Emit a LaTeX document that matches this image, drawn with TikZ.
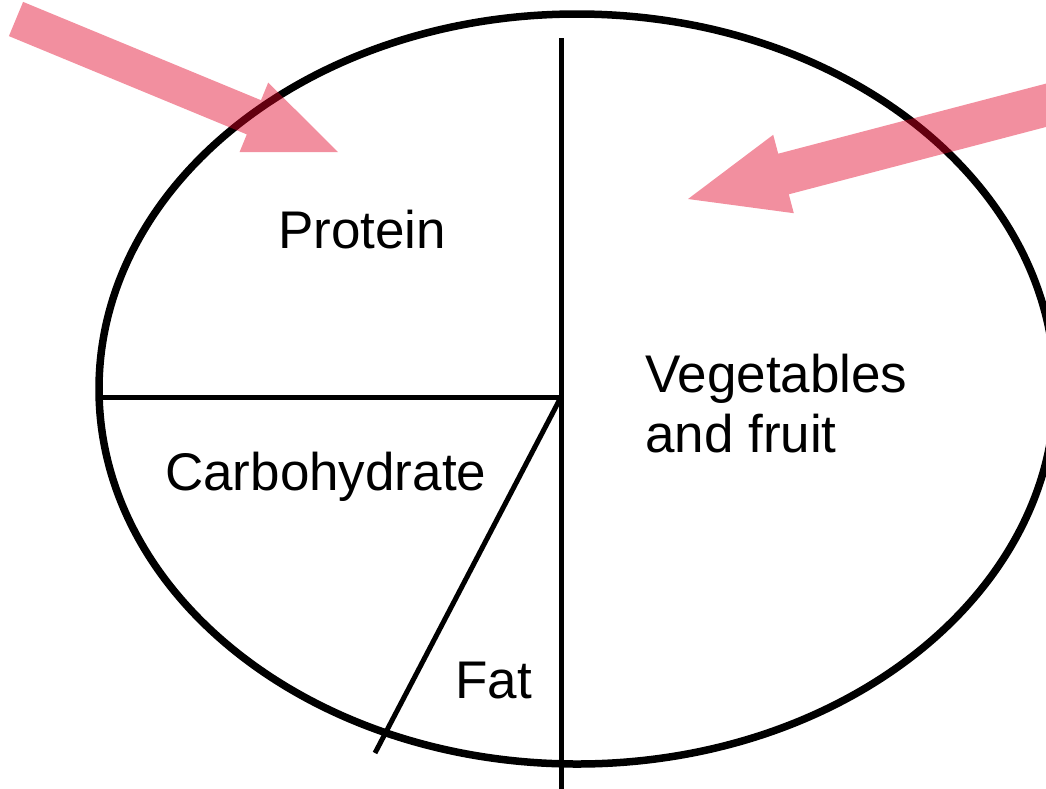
\documentclass[tikz,border=0pt]{standalone}
\usepackage{fontspec}
\setmainfont{Liberation Sans}
\definecolor{arrowred}{RGB}{226,0,36}
\begin{document}
\begin{tikzpicture}[x=1pt,y=-1pt,
  rim/.style={draw=black,line width=7.5pt},
  divider/.style={draw=black,line width=5pt},
  bigarrow/.style={fill=arrowred,fill opacity=0.44,draw=none},
  lbl/.style={anchor=base west,inner sep=0pt,font=\fontsize{53}{60}\selectfont}]
\useasboundingbox (0,0) rectangle (1046,788);
\clip (0,0) rectangle (1046,788);
% plate
\coordinate (c) at (577,389);
\draw[rim] (c) ellipse [x radius=478, y radius=375];
\coordinate (hub) at (561,397);
\coordinate (vtop) at (561,38);
\coordinate (vbot) at (561,795);
\coordinate (hleft) at (99,397);
\coordinate (dend) at (375,753);
\draw[divider] (vtop) -- (vbot);
\draw[divider] (hleft) -- (hub);
\draw[divider] (hub) -- (dend);
% labels
\node[lbl] (protein) at (278,248) {Protein};
\node[lbl] (veg) at (645,392) {Vegetables};
\node[lbl] (fruit) at (645,452) {and fruit};
\node[lbl] (carb) at (165,490) {Carbohydrate};
\node[lbl] (fat) at (455,698) {Fat};
% arrows
\coordinate (tipA) at (338,152);
\coordinate (tipB) at (688,199);
\fill[bigarrow] (8.9,36.1) -- (23.1,1.9) -- (261.0,100.2) -- (268.2,82.6)
  -- (tipA) -- (239.6,152.0) -- (246.8,134.4) -- cycle;
\fill[bigarrow] (1125.3,106.2) -- (1114.7,65.6) -- (778.2,153.7) -- (773.2,134.8)
  -- (tipB) -- (793.8,213.2) -- (788.8,194.3) -- cycle;
\end{tikzpicture}
\end{document}
